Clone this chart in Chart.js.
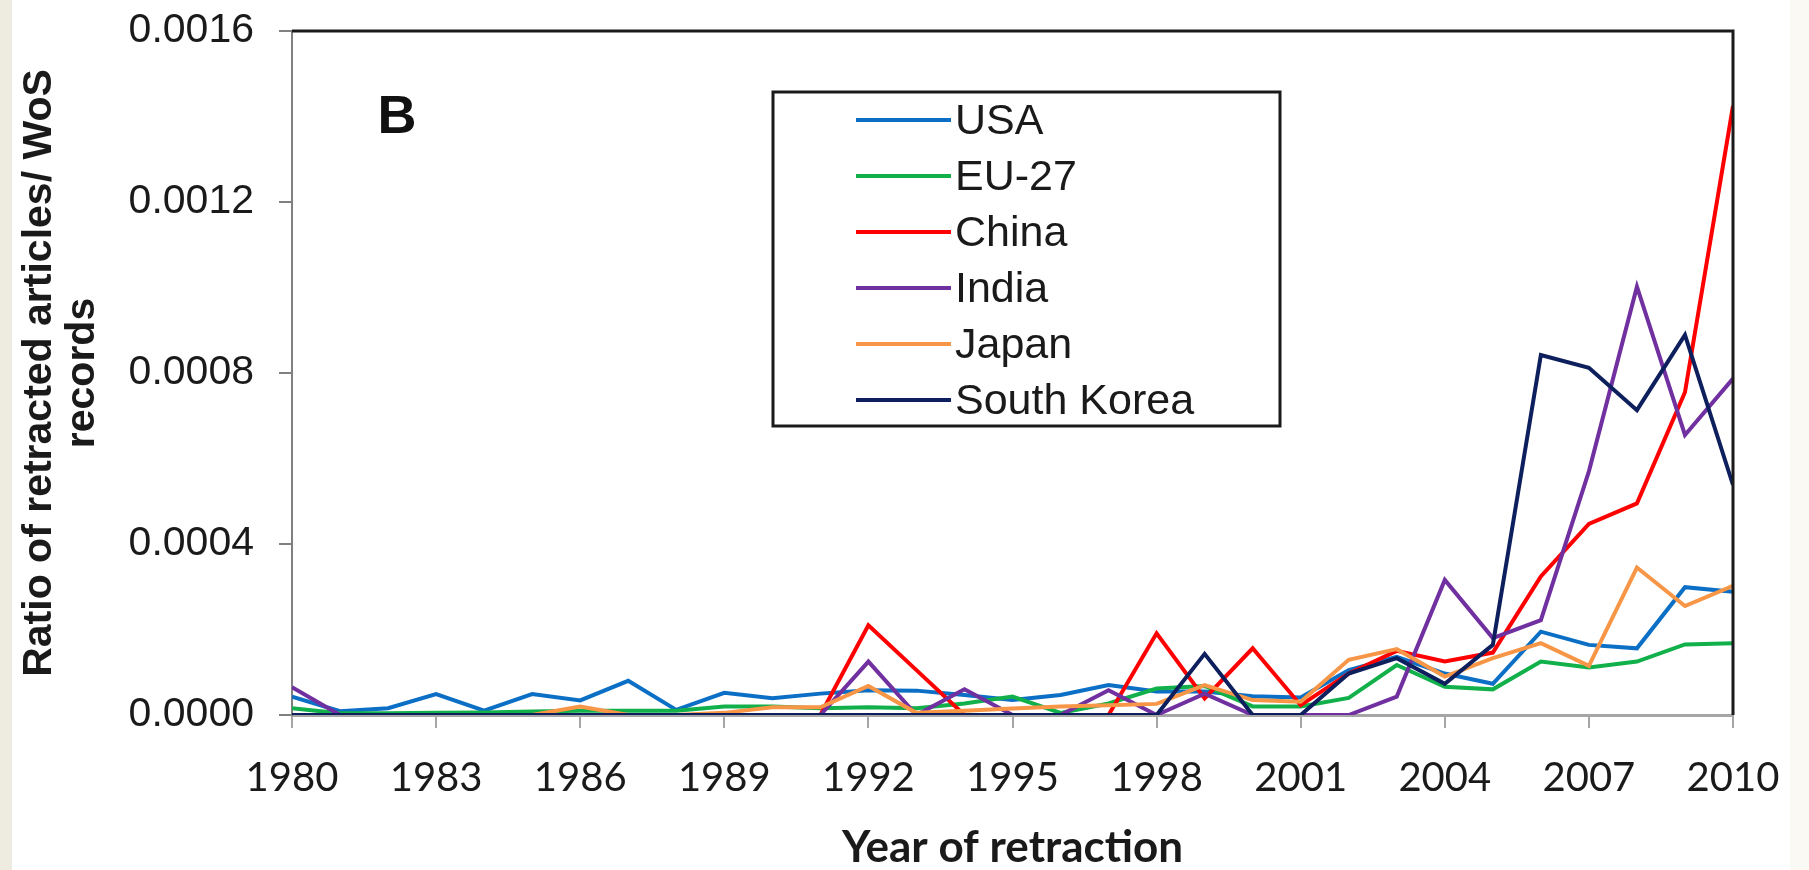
<!DOCTYPE html>
<html>
<head>
<meta charset="utf-8">
<script src="https://cdn.jsdelivr.net/npm/chart.js@4.4.1/dist/chart.umd.min.js"></script>
<style>
  html, body { margin: 0; padding: 0; background: #ffffff; }
  #wrap { width: 1809px; height: 870px; position: relative; }
</style>
</head>
<body>
<div id="wrap"><canvas id="chart" width="1809" height="870"></canvas></div>
<script>
// Year of retraction, 1980-2010
const years = [];
for (let y = 1980; y <= 2010; y++) years.push(y);

const countries = ['USA', 'EU-27', 'China', 'India', 'Japan', 'South Korea'];
const lineColors = ['#0b6fc6', '#12b04a', '#ff0000', '#7030a0', '#f79646', '#0d1f5c'];

// ratio of retracted articles / WoS records
const usa = [0.000043, 0.000009, 0.000016, 0.000049, 0.000010, 0.000049, 0.000034, 0.000080, 0.000012, 0.000052,
  0.000039, 0.000050, 0.000058, 0.000057, 0.000047, 0.000035, 0.000047, 0.000070, 0.000055, 0.000055,
  0.000044, 0.000041, 0.000105, 0.000136, 0.000097, 0.000073, 0.000195, 0.000164, 0.000156, 0.000299, 0.000288];
const eu27 = [0.000016, 0.000004, 0.000004, 0.000005, 0.000006, 0.000008, 0.000010, 0.000010, 0.000010, 0.000020,
  0.000020, 0.000016, 0.000018, 0.000016, 0.000027, 0.000043, 0.000005, 0.000027, 0.000062, 0.000068,
  0.000020, 0.000020, 0.000040, 0.000117, 0.000066, 0.000060, 0.000125, 0.000111, 0.000125, 0.000165, 0.000168];
const china = [0, 0, 0, 0, 0, 0, 0, 0, 0, 0,
  0, 0, 0.000210, 0.000105, 0, 0, 0, 0, 0.000191, 0.000039,
  0.000156, 0.000023, 0.000097, 0.000150, 0.000125, 0.000146, 0.000324, 0.000447, 0.000495, 0.000755, 0.001425];
const india = [0.000065, 0, 0, 0, 0, 0, 0, 0, 0, 0,
  0, 0, 0.000125, 0, 0.000060, 0, 0, 0.000058, 0, 0.000050,
  0, 0, 0, 0.000043, 0.000316, 0.000180, 0.000222, 0.000570, 0.001002, 0.000655, 0.000787];
const japan = [0, 0, 0, 0, 0, 0, 0.000020, 0, 0, 0.000005,
  0.000018, 0.000018, 0.000068, 0.000005, 0.000010, 0.000015, 0.000020, 0.000023, 0.000026, 0.000070,
  0.000035, 0.000031, 0.000129, 0.000154, 0.000090, 0.000133, 0.000168, 0.000115, 0.000345, 0.000255, 0.000302];
const southKorea = [0, 0, 0, 0, 0, 0, 0, 0, 0, 0,
  0, 0, 0, 0, 0, 0, 0, 0, 0, 0.000143,
  0, 0, 0.000097, 0.000133, 0.000073, 0.000164, 0.000842, 0.000812, 0.000713, 0.000889, 0.000538];

const series = [usa, eu27, china, india, japan, southKorea];

// Paints the white page with the beige margins of the scan
const backgroundPlugin = {
  id: 'pageBackground',
  beforeDraw(chart) {
    const ctx = chart.ctx;
    ctx.save();
    ctx.fillStyle = '#ffffff';
    ctx.fillRect(0, 0, chart.width, chart.height);
    ctx.fillStyle = '#eeebe0';
    ctx.fillRect(0, 0, 12, chart.height);
    ctx.fillStyle = '#faf9f4';
    ctx.fillRect(1790, 0, chart.width - 1790, chart.height);
    ctx.restore();
  }
};

// Top/right frame, panel letter and the boxed legend inside the plot
const framePlugin = {
  id: 'frameAndLegend',
  afterDraw(chart) {
    const ctx = chart.ctx;
    const a = chart.chartArea;
    ctx.save();

    ctx.strokeStyle = '#1a1a1a';
    ctx.lineWidth = 3;
    ctx.beginPath();
    ctx.moveTo(a.left, a.top);
    ctx.lineTo(a.right, a.top);
    ctx.lineTo(a.right, a.bottom);
    ctx.stroke();

    ctx.fillStyle = '#111';
    ctx.font = 'bold 54px "Liberation Sans", Arial, sans-serif';
    ctx.textAlign = 'center';
    ctx.textBaseline = 'middle';
    ctx.fillText('B', 397, 118);

    // legend box
    ctx.lineWidth = 3;
    ctx.strokeStyle = '#1a1a1a';
    ctx.strokeRect(773, 92, 507, 334);
    ctx.font = '43px "Liberation Sans", Arial, sans-serif';
    ctx.textAlign = 'left';
    chart.data.datasets.forEach((ds, i) => {
      const y = 120 + i * 56;
      ctx.strokeStyle = ds.borderColor;
      ctx.lineWidth = 4;
      ctx.beginPath();
      ctx.moveTo(856, y);
      ctx.lineTo(951, y);
      ctx.stroke();
      ctx.fillStyle = '#1a1a1a';
      ctx.fillText(ds.label, 955, y + 2);
    });
    ctx.restore();
  }
};

const ctx = document.getElementById('chart').getContext('2d');
new Chart(ctx, {
  type: 'line',
  data: {
    datasets: countries.map((name, i) => ({
      label: name,
      data: years.map((yr, j) => ({ x: yr, y: series[i][j] })),
      borderColor: lineColors[i],
      backgroundColor: lineColors[i],
      borderWidth: 4,
      pointRadius: 0,
      tension: 0,
      fill: false,
      order: countries.length - 1 - i
    }))
  },
  options: {
    responsive: false,
    animation: false,
    layout: { padding: { left: 0, top: 31, right: 76, bottom: 0 } },
    plugins: {
      legend: { display: false },
      tooltip: { enabled: false }
    },
    scales: {
      x: {
        type: 'linear',
        min: 1980,
        max: 2010,
        afterFit(scale) { scale.height = 155; },
        ticks: {
          stepSize: 3,
          padding: 26,
          color: '#1a1a1a',
          font: { family: 'Lato, "Open Sans", sans-serif', size: 40 },
          callback: v => String(v)
        },
        grid: {
          drawOnChartArea: false,
          drawTicks: true,
          tickLength: 13,
          color: '#a6a6a6',
          lineWidth: 2
        },
        border: { display: true, color: '#a6a6a6', width: 3 },
        title: {
          display: true,
          text: 'Year of retraction',
          color: '#1a1a1a',
          font: { family: 'Lato, "Open Sans", sans-serif', size: 44, weight: 'bold', lineHeight: 1.0 },
          padding: { top: 0, bottom: 0 }
        }
      },
      y: {
        min: 0,
        max: 0.0016,
        afterFit(scale) {
          scale.width = 292;
          scale.paddingTop = 0;
          scale.paddingBottom = 0;
        },
        ticks: {
          stepSize: 0.0004,
          padding: 25,
          color: '#1a1a1a',
          font: { family: '"Liberation Sans", Arial, sans-serif', size: 41 },
          callback: v => v.toFixed(4)
        },
        grid: {
          drawOnChartArea: false,
          drawTicks: true,
          tickLength: 13,
          color: '#808080',
          lineWidth: 2
        },
        border: { display: true, color: '#808080', width: 2 },
        title: {
          display: true,
          text: ['Ratio of retracted articles/ WoS', 'records'],
          color: '#1a1a1a',
          font: { family: '"Liberation Sans", Arial, sans-serif', size: 41, weight: 'bold', lineHeight: 1.05 },
          padding: { top: 18, bottom: 0 }
        }
      }
    }
  },
  plugins: [backgroundPlugin, framePlugin]
});
</script>
</body>
</html>
